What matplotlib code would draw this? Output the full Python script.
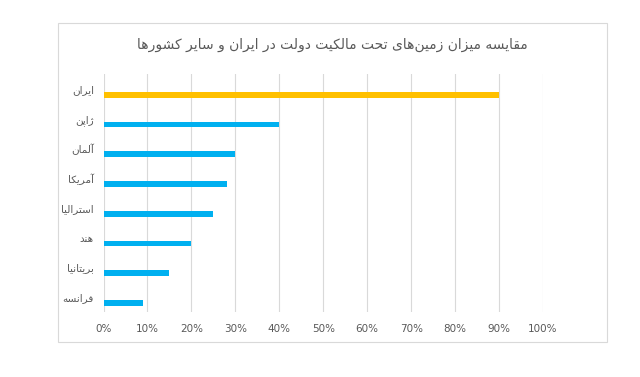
import matplotlib
matplotlib.use("Agg")
import matplotlib.pyplot as plt
from matplotlib.patches import Rectangle

# data
countries = ["ایران", "ژاپن", "آلمان", "آمریکا", "استرالیا", "هند", "بریتانیا", "فرانسه"]
shares = [90, 40, 30, 28, 25, 20, 15, 9]
bar_colors = ["#FFC000", "#00B0F0", "#00B0F0", "#00B0F0", "#00B0F0", "#00B0F0", "#00B0F0", "#00B0F0"]
title = "مقایسه میزان زمین\u200cهای تحت مالکیت دولت در ایران و سایر کشورها"
xticks = list(range(0, 101, 10))
xlabels = ["%d%%" % v for v in xticks]

# matplotlib does no arabic shaping, so pick presentation forms by hand
# (isolated, final, initial, medial); right-joining letters have only two
FORMS = {
    "\u0622": (0xFE81, 0xFE82), "\u0627": (0xFE8D, 0xFE8E),
    "\u0626": (0xFE89, 0xFE8A, 0xFE8B, 0xFE8C),
    "\u0628": (0xFE8F, 0xFE90, 0xFE91, 0xFE92),
    "\u067E": (0xFB56, 0xFB57, 0xFB58, 0xFB59),
    "\u062A": (0xFE95, 0xFE96, 0xFE97, 0xFE98),
    "\u062B": (0xFE99, 0xFE9A, 0xFE9B, 0xFE9C),
    "\u062C": (0xFE9D, 0xFE9E, 0xFE9F, 0xFEA0),
    "\u0686": (0xFB7A, 0xFB7B, 0xFB7C, 0xFB7D),
    "\u062D": (0xFEA1, 0xFEA2, 0xFEA3, 0xFEA4),
    "\u062E": (0xFEA5, 0xFEA6, 0xFEA7, 0xFEA8),
    "\u062F": (0xFEA9, 0xFEAA), "\u0630": (0xFEAB, 0xFEAC),
    "\u0631": (0xFEAD, 0xFEAE), "\u0632": (0xFEAF, 0xFEB0),
    "\u0698": (0xFB8A, 0xFB8B),
    "\u0633": (0xFEB1, 0xFEB2, 0xFEB3, 0xFEB4),
    "\u0634": (0xFEB5, 0xFEB6, 0xFEB7, 0xFEB8),
    "\u0635": (0xFEB9, 0xFEBA, 0xFEBB, 0xFEBC),
    "\u0636": (0xFEBD, 0xFEBE, 0xFEBF, 0xFEC0),
    "\u0637": (0xFEC1, 0xFEC2, 0xFEC3, 0xFEC4),
    "\u0638": (0xFEC5, 0xFEC6, 0xFEC7, 0xFEC8),
    "\u0639": (0xFEC9, 0xFECA, 0xFECB, 0xFECC),
    "\u063A": (0xFECD, 0xFECE, 0xFECF, 0xFED0),
    "\u0641": (0xFED1, 0xFED2, 0xFED3, 0xFED4),
    "\u0642": (0xFED5, 0xFED6, 0xFED7, 0xFED8),
    "\u06A9": (0xFB8E, 0xFB8F, 0xFB90, 0xFB91),
    "\u06AF": (0xFB92, 0xFB93, 0xFB94, 0xFB95),
    "\u0644": (0xFEDD, 0xFEDE, 0xFEDF, 0xFEE0),
    "\u0645": (0xFEE1, 0xFEE2, 0xFEE3, 0xFEE4),
    "\u0646": (0xFEE5, 0xFEE6, 0xFEE7, 0xFEE8),
    "\u0648": (0xFEED, 0xFEEE),
    "\u0647": (0xFEE9, 0xFEEA, 0xFEEB, 0xFEEC),
    "\u06CC": (0xFBFC, 0xFBFD, 0xFBFE, 0xFBFF),
}


def shape(s):
    out = []
    for i, ch in enumerate(s):
        if ch not in FORMS:
            if ch != "\u200c":
                out.append(ch)
            continue
        prev = s[i - 1] if i > 0 else ""
        nxt = s[i + 1] if i + 1 < len(s) else ""
        f = FORMS[ch]
        join_prev = prev in FORMS and len(FORMS[prev]) == 4
        join_next = len(f) == 4 and nxt in FORMS
        if join_prev and join_next:
            k = 3
        elif join_prev:
            k = 1
        elif join_next:
            k = 2
        else:
            k = 0
        out.append(chr(f[k]))
    return "".join(out)[::-1]


plt.rcParams["font.family"] = ["DejaVu Sans"]

fig = plt.figure(figsize=(6.4, 3.77), dpi=100)
fig.patches.append(Rectangle((58 / 640, 35 / 377), 549 / 640, 319 / 377,
                             transform=fig.transFigure, fill=False,
                             edgecolor="#D9D9D9", linewidth=0.8))

ax = fig.add_axes([103.5 / 640, 65 / 377, 439.5 / 640, 238 / 377])
pos = list(range(len(countries)))
ax.barh([p + 0.2 for p in pos], shares, height=0.19, color=bar_colors, zorder=3)

ax.set_xlim(0, 100)
ax.set_ylim(len(countries) - 0.5, -0.5)
ax.set_xticks(xticks)
ax.set_xticklabels(xlabels)
ax.set_yticks(pos)
ax.set_yticklabels([shape(c) for c in countries])
ax.tick_params(axis="both", length=0, colors="#595959", labelsize=7.5)
ax.tick_params(axis="x", pad=9)
ax.tick_params(axis="y", pad=7)
ax.grid(axis="x", color="#D9D9D9", linewidth=0.8, zorder=0)
for sp in ax.spines.values():
    sp.set_visible(False)

fig.text(332 / 640, 1 - 45 / 377, shape(title), ha="center", va="center",
         fontsize=10, color="#595959")

fig.savefig("out.png", dpi=100)
